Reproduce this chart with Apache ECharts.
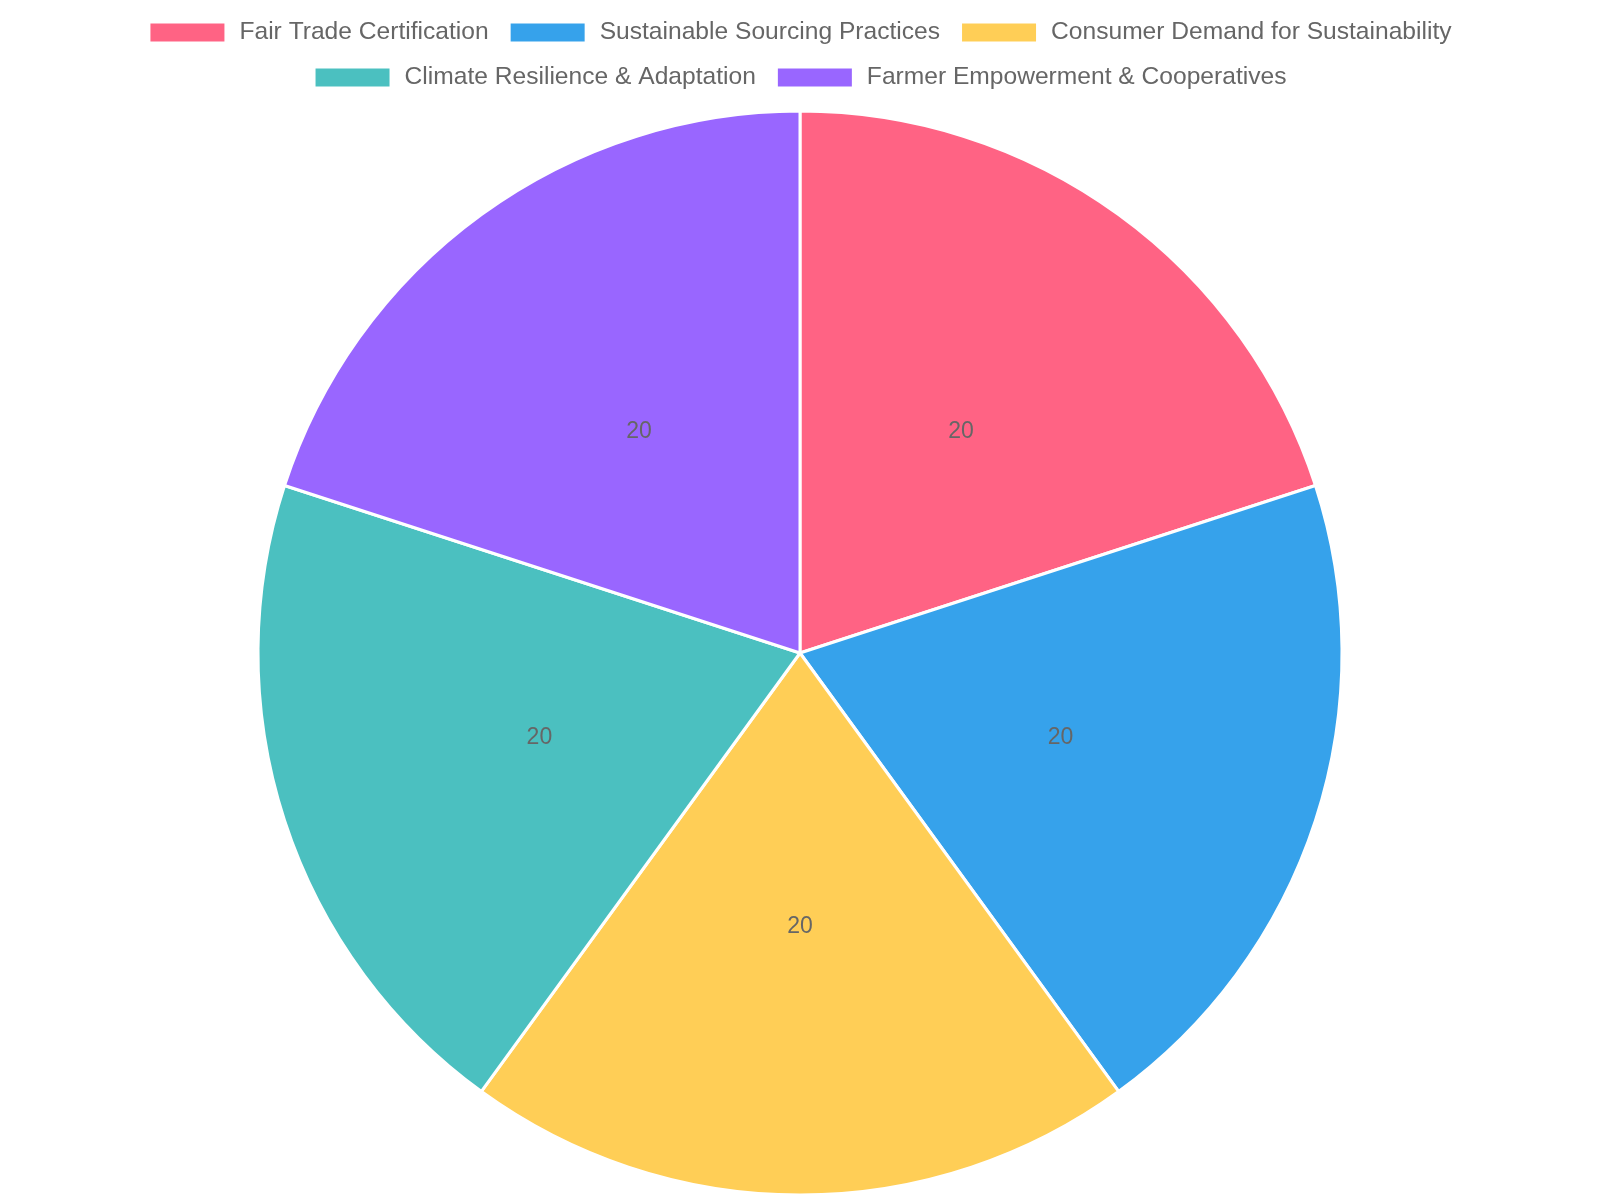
<!DOCTYPE html>
<html>
<head>
<meta charset="utf-8">
<script src="https://cdn.jsdelivr.net/npm/echarts@6/dist/echarts.min.js"></script>
<style>
html,body{margin:0;padding:0;background:#fff;}
#chart{width:1600px;height:1200px;}
</style>
</head>
<body>
<div id="chart"></div>
<script>
const categories = [
  'Fair Trade Certification',
  'Sustainable Sourcing Practices',
  'Consumer Demand for Sustainability',
  'Climate Resilience & Adaptation',
  'Farmer Empowerment & Cooperatives'
];
const values = [20, 20, 20, 20, 20];
const colors = ['#FF6384', '#36A2EB', '#FFCE56', '#4BC0C0', '#9966FF'];

const font = 'Liberation Sans, Arial, Helvetica, sans-serif';
const chart = echarts.init(document.getElementById('chart'));

const legendBase = {
  orient: 'horizontal',
  left: 'center',
  itemWidth: 76,
  itemHeight: 20,
  itemGap: 20,
  icon: 'rect',
  selectedMode: false,
  textStyle: { fontSize: 24.6, color: '#666', fontFamily: font, padding: [0, 0, 0, 9] }
};

chart.setOption({
  animation: false,
  color: colors,
  legend: [
    Object.assign({}, legendBase, { top: 15, data: categories.slice(0, 3) }),
    Object.assign({}, legendBase, { top: 60, data: categories.slice(3) })
  ],
  series: [{
    type: 'pie',
    center: [800, 653],
    radius: [0, 542],
    startAngle: 90,
    clockwise: true,
    silent: true,
    itemStyle: { borderColor: '#fff', borderWidth: 3 },
    label: {
      show: true,
      position: 'inside',
      formatter: '{c}',
      fontSize: 23,
      color: '#666',
      fontFamily: font
    },
    labelLine: { show: false },
    emphasis: { disabled: true },
    data: categories.map((c, i) => ({ name: c, value: values[i] }))
  }]
});
</script>
</body>
</html>
